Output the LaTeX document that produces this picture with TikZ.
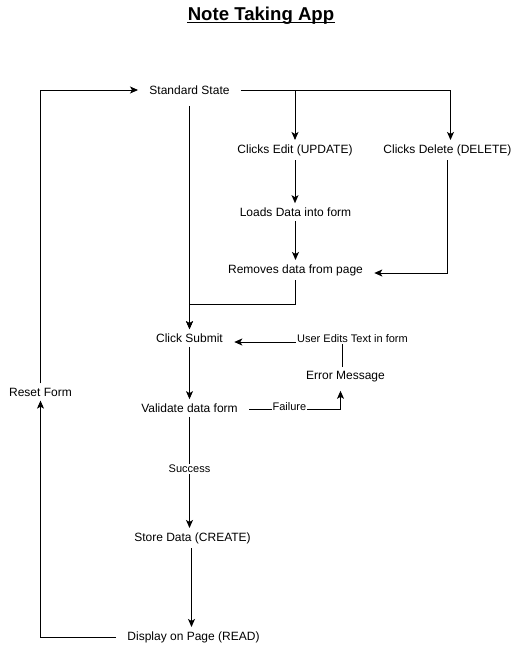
\documentclass[tikz,border=0pt]{standalone}
\usepackage{fontspec}
\setmainfont{Liberation Sans}
\usetikzlibrary{arrows.meta}

\begin{document}
\begin{tikzpicture}[x=1pt, y=-1pt, >={Stealth[length=8pt, width=7pt, inset=2pt]}, line width=0.9pt,
        state/.style={inner xsep=11pt, inner ysep=4pt, font=\fontsize{12}{14}\selectfont},
        tag/.style={fill=white, inner sep=1pt, font=\fontsize{11}{13}\selectfont}]
    \useasboundingbox (0, 0) rectangle (518, 649);

    \node[anchor=base, inner sep=0pt, font=\fontsize{18.6}{22}\selectfont\bfseries] (title) at (261, 20.5) {Note Taking App};
    \draw[line width=1.1pt] ([yshift=-2pt]title.base west) -- ([yshift=-2pt]title.base east);

    \node[state] (std)      at (189.5, 90)  {Standard State};
    \node[state] (edit)     at (295, 150)   {Clicks Edit (UPDATE)};
    \node[state] (del)      at (447.5, 150) {Clicks Delete (DELETE)};
    \node[state] (load)     at (295.5, 212) {Loads Data into form};
    \node[state] (remove)   at (295.5, 270) {Removes data from page};
    \node[state] (submit)   at (189.5, 338) {Click Submit};
    \node[state] (error)    at (345.5, 377) {Error Message};
    \node[state] (validate) at (189.5, 408) {Validate data form};
    \node[state] (store)    at (192.5, 538) {Store Data (CREATE)};
    \node[state] (display)  at (193.5, 637) {Display on Page (READ)};
    \node[state] (reset)    at (40.5, 392)  {Reset Form};

    \draw[->] (std.east) -| (edit.north);
    \draw[->] (std.east) -| ([xshift=3pt]del.north);
    \draw[->] (edit.south) -- (edit.south |- load.north);
    \draw[->] (load.south) -- (load.south |- remove.north);
    \draw[->] (del.south) |- ([yshift=-3pt]remove.east);
    \draw[->] ([yshift=-7pt]std.south) -- (submit.north);
    \draw[->] (remove.south) -- ++(0, 24) -| (submit.north);
    \draw[->] (submit.south) -- (validate.north);
    \draw[->] ([yshift=-1pt]validate.east) -| ([shift={(-5pt, -4pt)}]error.south)
        node[tag, pos=0.22, yshift=2pt] {Failure};
    \draw[->] ([xshift=-3pt]error.north) |- ([yshift=-4pt]submit.east)
        node[tag, pos=0.5, xshift=10pt, yshift=3pt] {User Edits Text in form};
    \draw[->] (validate.south) -- (validate.south |- store.north)
        node[tag, pos=0.47] {Success};
    \draw[->] ([xshift=-1pt]store.south) -- ([xshift=-1pt]store.south |- display.north);
    \draw[->] (display.west) -| (reset.south);
    \draw[->] (reset.north) |- (std.west);
\end{tikzpicture}
\end{document}
